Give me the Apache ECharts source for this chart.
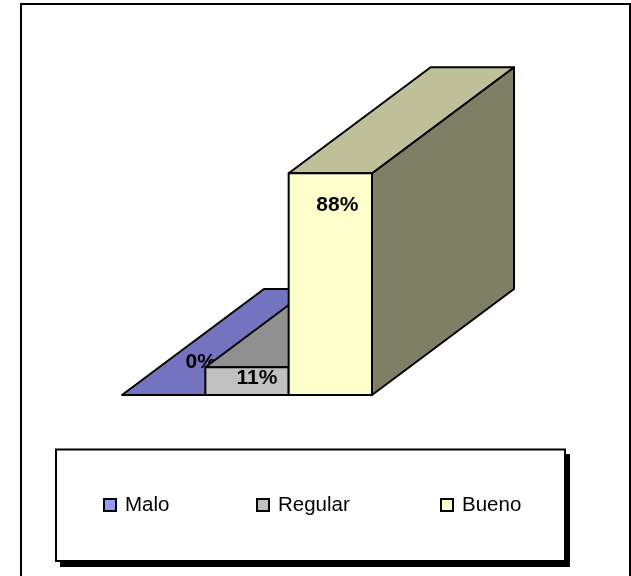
<!DOCTYPE html>
<html><head><meta charset="utf-8">
<style>html,body{margin:0;padding:0;background:#fff}#c{width:631px;height:576px}</style>
<script src="https://cdn.jsdelivr.net/npm/echarts@6/dist/echarts.min.js"></script>
</head><body><div id="c"></div>
<script>
const categories = ['Malo', 'Regular', 'Bueno'];
const values = [0, 11, 88];
const labels = ['0%', '11%', '88%'];
const yMax = 100;

const depth = [142, -106];
const palette = [
  {front:'#9999ff', top:'#7373bf', side:'#5c5c99'},
  {front:'#c0c0c0', top:'#909090', side:'#737373'},
  {front:'#ffffcc', top:'#bfbf99', side:'#7f7f66'}
];
const labelShift = [[37,-33],[10,11],[7,32]];
const font = 'Liberation Sans, Arial, sans-serif';
const line = {stroke:'#000', lineWidth:2, lineJoin:'round'};

function renderBox(i){
  return function(params, api){
    const size = api.size([1,0])[0];
    const c = api.coord([i, api.value(1)]);
    const b = api.coord([i, 0]);
    const x0 = c[0]-size/2, x1 = c[0]+size/2, yT = c[1], yB = b[1];
    const dx = depth[0], dy = depth[1], pal = palette[i];
    const poly = (pts, fill) => ({type:'polygon', shape:{points:pts}, style:Object.assign({fill}, line)});
    const kids = [];
    kids.push(poly([[x1,yT],[x1+dx,yT+dy],[x1+dx,yB+dy],[x1,yB]], pal.side));
    kids.push(poly([[x0,yT],[x1,yT],[x1+dx,yT+dy],[x0+dx,yT+dy]], pal.top));
    if (yB-yT>0) kids.push(poly([[x0,yT],[x1,yT],[x1,yB],[x0,yB]], pal.front));
    kids.push({type:'text', z2:100, style:{
      text: labels[i], x:c[0]+labelShift[i][0], y:(i===0?yB:yT)+labelShift[i][1],
      align:'center', verticalAlign:'middle',
      font:'bold 21px '+font, fill:'#000'}});
    return {type:'group', children:kids};
  };
}

const series = categories.map((name,i)=>({
  type:'custom', name, coordinateSystem:'cartesian2d',
  data:[[i, values[i]]], encode:{x:0,y:1}, z:2+i, clip:false,
  renderItem:renderBox(i), itemStyle:{color:palette[i].front, borderColor:'#000', borderWidth:2},
  silent:true
}));

const legendLeft = [98, 251, 435];
const option = {
  animation:false,
  backgroundColor:'#fff',
  grid:{left:122, top:143, width:250, height:252},
  xAxis:{type:'category', data:categories, show:false, boundaryGap:true},
  yAxis:{type:'value', min:0, max:yMax, show:false},
  legend: categories.map((name,i)=>({
    data:[name], left:legendLeft[i], top:489.5, itemWidth:12, itemHeight:12, z:10, orient:'horizontal',
    icon:'rect', selectedMode:false,
    textStyle:{fontFamily:font, fontSize:20.5, color:'#000', padding:[0,0,0,4]}
  })),
  graphic:[
    {type:'rect', z:-3, shape:{x:21,y:4,width:609,height:580}, style:{fill:'#fff', stroke:'#000', lineWidth:2}},
    {type:'rect', z:1, shape:{x:60,y:454,width:510,height:113}, style:{fill:'#000'}},
    {type:'rect', z:1, shape:{x:56,y:449.5,width:509,height:111.5}, style:{fill:'#fff', stroke:'#000', lineWidth:2}}
  ],
  series
};
echarts.init(document.getElementById('c'),null,{renderer:'canvas'}).setOption(option);
</script></body></html>
